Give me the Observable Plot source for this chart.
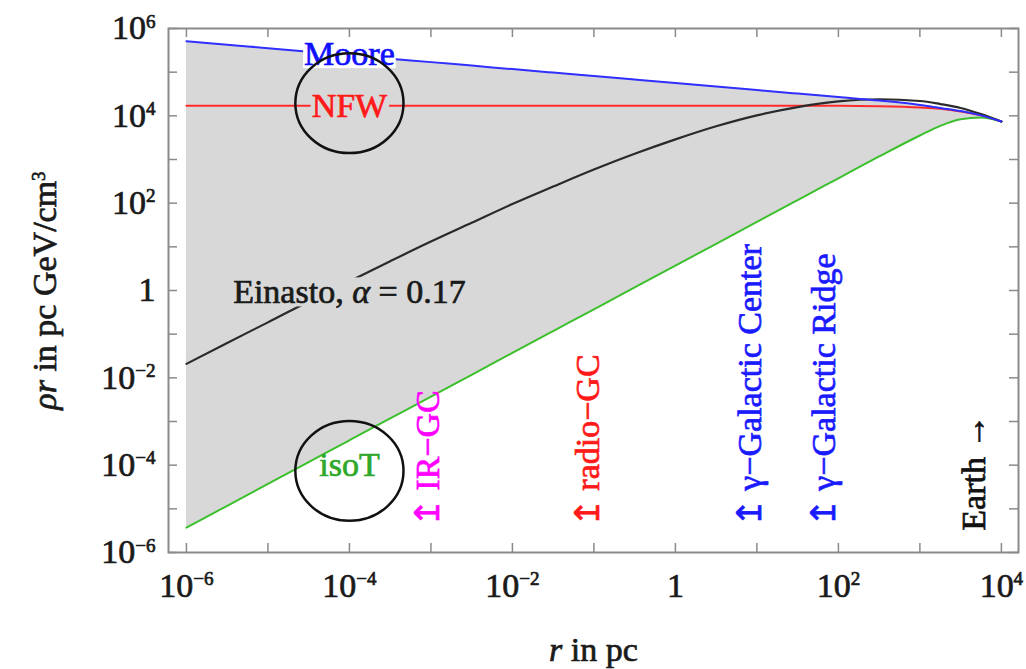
<!DOCTYPE html>
<html>
<head>
<meta charset="utf-8">
<script src="https://cdn.jsdelivr.net/npm/d3@7"></script>
<script src="https://cdn.jsdelivr.net/npm/@observablehq/plot@0.6"></script>
<style>
  html, body { margin: 0; padding: 0; background: #fff; }
</style>
</head>
<body>
<script>
// Galactocentric radius r (pc), as powers of ten
const radiusExp = [-6, -5.5, -5, -4.5, -4, -3.5, -3, -2.5, -2, -1.5, -1, -0.5, 0, 0.5, 1, 1.5, 2, 2.5, 3, 3.25, 3.5, 3.75, 4];

// log10 of rho*r (pc GeV/cm^3) for each dark-matter halo profile
const mooreExp   = [5.71, 5.63, 5.55, 5.47, 5.39, 5.31, 5.23, 5.15, 5.07, 4.99, 4.91, 4.83, 4.75, 4.67, 4.59, 4.51, 4.43, 4.35, 4.25, 4.18, 4.11, 4.01, 3.87];
const nfwExp     = [4.23, 4.23, 4.23, 4.23, 4.23, 4.23, 4.23, 4.23, 4.23, 4.23, 4.23, 4.23, 4.23, 4.23, 4.23, 4.23, 4.23, 4.22, 4.19, 4.16, 4.10, 4.01, 3.87];
const einastoExp = [-1.68, -1.20, -0.73, -0.25, 0.21, 0.67, 1.12, 1.55, 1.98, 2.38, 2.77, 3.13, 3.46, 3.76, 4.01, 4.20, 4.33, 4.38, 4.34, 4.27, 4.18, 4.04, 3.87];
const isoTExp    = [-5.43, -4.93, -4.43, -3.93, -3.43, -2.93, -2.43, -1.93, -1.43, -0.93, -0.43, 0.07, 0.57, 1.07, 1.57, 2.07, 2.57, 3.07, 3.55, 3.77, 3.92, 3.96, 3.87];

// Profile names, written at r = 1e-4 pc
const profileNames = ["Moore", "NFW", "isoT", "Einasto, {i:α} = 0.17"];
const profileNameR = [1e-4, 1e-4, 1e-4, 1e-4];
const profileNameRho = [10 ** 5.41, 10 ** 4.22, 10 ** -4.0, 0.9];
const profileNameColor = ["#1010ff", "#ff1a1a", "#2fa82a", "#1a1a1a"];
const profileNameBox = ["white", "gray", "none", "gray"];

// Circled regions
const circleR = [1e-4, 1e-4];
const circleRho = [10 ** 4.29, 10 ** -4.13];

// Radii probed by each observation
const probeNames = ["↥ IR−GC", "↥ radio−GC", "↥ γ−Galactic Center", "↥ γ−Galactic Ridge", "Earth →"];
const probeR = [9.3e-4, 0.085, 8.3, 66, 4600];
const probeBase = [10 ** -5.42, 10 ** -5.42, 10 ** -5.42, 10 ** -5.42, 10 ** -5.5];
const probeColor = ["#ff00ff", "#ff1a1a", "#1a1aff", "#1a1aff", "#111111"];

// Axis ticks (exponents)
const xTickExp = [-6, -5, -4, -3, -2, -1, 0, 1, 2, 3, 4];
const xLabelExp = [-6, -4, -2, 0, 2, 4];
const yTickExp = [-6, -5, -4, -3, -2, -1, 0, 1, 2, 3, 4, 5, 6];
const yLabelExp = [-6, -4, -2, 0, 2, 4, 6];

const table = radiusExp.map((e, i) => ({
  r: 10 ** e,
  moore: 10 ** mooreExp[i],
  nfw: 10 ** nfwExp[i],
  einasto: 10 ** einastoExp[i],
  isoT: 10 ** isoTExp[i]
}));
const names = profileNames.map((t, i) => ({t, r: profileNameR[i], rho: profileNameRho[i], c: profileNameColor[i], box: profileNameBox[i]}));
const circles = circleR.map((r, i) => ({r, rho: circleRho[i]}));
const probes = probeNames.map((t, i) => ({t, r: probeR[i], rho: probeBase[i], c: probeColor[i]}));

const W = 1026, H = 669, mL = 168, mR = 8, mT = 28, mB = 117;
const innerW = W - mL - mR, innerH = H - mT - mB;
const tickLen = 9;
const frameGray = "#8a8a8a";
const fillGray = "#d8d8d8";

const pow10 = (d) => {
  const e = Math.round(Math.log10(d));
  return e === 0 ? "1" : `10^{${e < 0 ? "−" + (-e) : e}}`;
};
const plain = (s) => s.replace(/\{i:([^}]*)\}/g, "$1").replace(/\^\{([^}]*)\}/g, "$1");

// Slightly flattened ring drawn as a dot symbol
const ring = {
  draw(context, size) {
    const r = Math.sqrt(size / Math.PI);
    const rx = r * 1.04, ry = r * 0.96, k = 0.5523;
    context.moveTo(rx, 0);
    context.bezierCurveTo(rx, ry * k, rx * k, ry, 0, ry);
    context.bezierCurveTo(-rx * k, ry, -rx, ry * k, -rx, 0);
    context.bezierCurveTo(-rx, -ry * k, -rx * k, -ry, 0, -ry);
    context.bezierCurveTo(rx * k, -ry, rx, -ry * k, rx, 0);
    context.closePath();
  }
};

const svg = Plot.plot({
  width: W,
  height: H,
  marginLeft: mL,
  marginRight: mR,
  marginTop: mT,
  marginBottom: mB,
  style: {fontFamily: "'Liberation Serif', 'Times New Roman', serif", fontSize: "34px", color: "#1a1a1a", background: "#fff"},
  x: {type: "log", domain: [10 ** -6.22, 10 ** 4.21]},
  y: {type: "log", domain: [1e-6, 1e6]},
  marks: [
    Plot.areaY(table, {x: "r", y1: "isoT", y2: "moore", fill: fillGray, curve: "monotone-x"}),
    Plot.line(table, {x: "r", y: "isoT", stroke: "#3cbf2d", strokeWidth: 2, curve: "monotone-x"}),
    Plot.line(table, {x: "r", y: "nfw", stroke: "#ff2b2b", strokeWidth: 2, curve: "monotone-x"}),
    Plot.line(table, {x: "r", y: "einasto", stroke: "#2a2a2a", strokeWidth: 2.2, curve: "monotone-x"}),
    Plot.line(table, {x: "r", y: "moore", stroke: "#2f2fff", strokeWidth: 2, curve: "monotone-x"}),

    Plot.text(names, {x: "r", y: "rho", text: "t", fill: "c"}),

    Plot.dot(circles, {x: "r", y: "rho", r: 52, symbol: ring, fill: "none", stroke: "#111", strokeWidth: 2.5}),

    Plot.text(probes, {x: "r", y: "rho", text: "t", fill: "c", rotate: -90, textAnchor: "start"}),

    // inward ticks on all four sides
    Plot.ruleX(xTickExp.map(e => 10 ** e), {insetTop: innerH - tickLen, stroke: frameGray, strokeWidth: 1.5}),
    Plot.ruleX(xTickExp.map(e => 10 ** e), {insetBottom: innerH - tickLen, stroke: frameGray, strokeWidth: 1.5}),
    Plot.ruleY(yTickExp.map(e => 10 ** e), {insetRight: innerW - tickLen, stroke: frameGray, strokeWidth: 1.5}),
    Plot.ruleY(yTickExp.map(e => 10 ** e), {insetLeft: innerW - tickLen, stroke: frameGray, strokeWidth: 1.5}),
    Plot.frame({stroke: frameGray, strokeWidth: 2}),

    Plot.axisX({anchor: "bottom", ticks: xLabelExp.map(e => 10 ** e), tickSize: 0, tickPadding: 20, tickFormat: pow10, label: null}),
    Plot.axisY({anchor: "left", ticks: yLabelExp.map(e => 10 ** e), tickSize: 0, tickPadding: 13, tickFormat: pow10, label: null}),

    Plot.text(["{i:r} in pc"], {frameAnchor: "bottom", textAnchor: "middle", lineAnchor: "middle", dy: 98, fill: "#1a1a1a"}),
    Plot.text(["{i:ρr} in pc GeV/cm^{3}"], {frameAnchor: "left", textAnchor: "middle", lineAnchor: "middle", dx: -123, rotate: -90, fill: "#1a1a1a"})
  ]
});
document.body.append(svg);

// Background colour behind each profile name
const boxOf = new Map(names.filter(d => d.box !== "none").map(d => [plain(d.t), d.box === "white" ? "#fff" : fillGray]));

// Turn the light markup ({i:…} italic, ^{…} superscript) into tspans
const NS = "http://www.w3.org/2000/svg";
for (const t of svg.querySelectorAll("text")) {
  const s = t.textContent;
  if (s.includes("{")) {
    const fs = parseFloat(getComputedStyle(t).fontSize);
    const rise = 0.34 * fs;
    t.textContent = "";
    const re = /\{i:([^}]*)\}|\^\{([^}]*)\}|([^{^]+)/g;
    let m, raised = false;
    while ((m = re.exec(s))) {
      const ts = document.createElementNS(NS, "tspan");
      if (m[2] !== undefined) {
        ts.textContent = m[2];
        ts.setAttribute("font-size", 0.56 * fs);
        ts.setAttribute("dy", -rise);
        raised = true;
      } else {
        ts.textContent = m[1] !== undefined ? m[1] : m[3];
        if (m[1] !== undefined) ts.setAttribute("font-style", "italic");
        if (raised) { ts.setAttribute("dy", rise); raised = false; }
      }
      t.append(ts);
    }
  }
  // a hairline outline in the text's own colour gives the glyphs more weight
  const f = getComputedStyle(t).fill;
  t.setAttribute("stroke", f);
  t.setAttribute("stroke-width", 0.7);
  t.setAttribute("paint-order", "stroke");

  const bg = boxOf.get(t.textContent);
  if (bg) {
    const b = t.getBBox();
    const rect = document.createElementNS(NS, "rect");
    rect.setAttribute("x", b.x - 1);
    rect.setAttribute("y", b.y + 4);
    rect.setAttribute("width", b.width + 2);
    rect.setAttribute("height", b.height - 8);
    rect.setAttribute("fill", bg);
    if (t.getAttribute("transform")) rect.setAttribute("transform", t.getAttribute("transform"));
    t.parentNode.insertBefore(rect, t);
  }
}
</script>
</body>
</html>
